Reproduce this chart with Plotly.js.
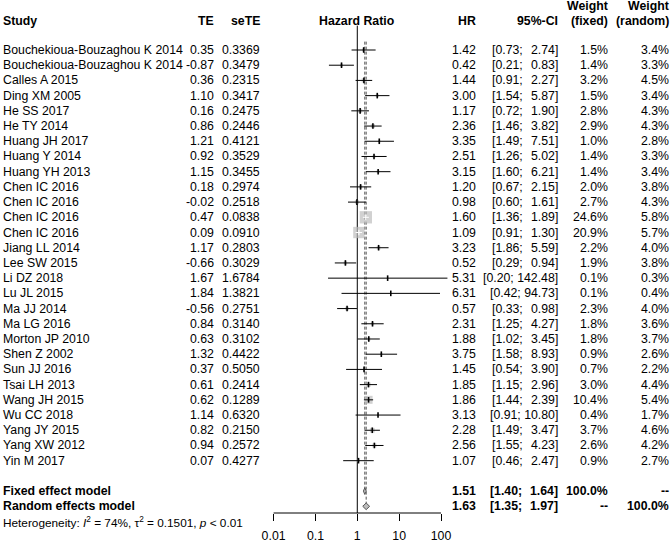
<!DOCTYPE html>
<html><head><meta charset="utf-8">
<script src="https://cdn.plot.ly/plotly-3.0.1.min.js"></script>
<style>html,body{margin:0;padding:0;background:#fff}</style>
</head><body><div id="chart" style="width:671px;height:542px"></div>
<script>
// ---------------- data ----------------
const studies = ["Bouchekioua-Bouzaghou K 2014","Bouchekioua-Bouzaghou K 2014","Calles A 2015","Ding XM 2005","He SS 2017","He TY 2014","Huang JH 2017","Huang Y 2014","Huang YH 2013","Chen IC 2016","Chen IC 2016","Chen IC 2016","Chen IC 2016","Jiang LL 2014","Lee SW 2015","Li DZ 2018","Lu JL 2015","Ma JJ 2014","Ma LG 2016","Morton JP 2010","Shen Z 2002","Sun JJ 2016","Tsai LH 2013","Wang JH 2015","Wu CC 2018","Yang JY 2015","Yang XW 2012","Yin M 2017"];
const TE = [0.35,-0.87,0.36,1.10,0.16,0.86,1.21,0.92,1.15,0.18,-0.02,0.47,0.09,1.17,-0.66,1.67,1.84,-0.56,0.84,0.63,1.32,0.37,0.61,0.62,1.14,0.82,0.94,0.07];
const seTE = [0.3369,0.3479,0.2315,0.3417,0.2475,0.2446,0.4121,0.3529,0.3455,0.2974,0.2518,0.0838,0.0910,0.2803,0.3029,1.6784,1.3821,0.2751,0.3140,0.3102,0.4422,0.5050,0.2414,0.1289,0.6320,0.2150,0.2572,0.4277];
const HR = [1.42,0.42,1.44,3.00,1.17,2.36,3.35,2.51,3.15,1.20,0.98,1.60,1.09,3.23,0.52,5.31,6.31,0.57,2.31,1.88,3.75,1.45,1.85,1.86,3.13,2.28,2.56,1.07];
const lower = [0.73,0.21,0.91,1.54,0.72,1.46,1.49,1.26,1.60,0.67,0.60,1.36,0.91,1.86,0.29,0.20,0.42,0.33,1.25,1.02,1.58,0.54,1.15,1.44,0.91,1.49,1.55,0.46];
const upper = [2.74,0.83,2.27,5.87,1.90,3.82,7.51,5.02,6.21,2.15,1.61,1.89,1.30,5.59,0.94,142.48,94.73,0.98,4.27,3.45,8.93,3.90,2.96,2.39,10.80,3.47,4.23,2.47];
const wFixed = [1.5,1.4,3.2,1.5,2.8,2.9,1.0,1.4,1.4,2.0,2.7,24.6,20.9,2.2,1.9,0.1,0.1,2.3,1.8,1.8,0.9,0.7,3.0,10.4,0.4,3.7,2.6,0.9];
const wRandom = [3.4,3.3,4.5,3.4,4.3,4.3,2.8,3.3,3.4,3.8,4.3,5.8,5.7,4.0,3.8,0.3,0.4,4.0,3.6,3.7,2.6,2.2,4.4,5.4,1.7,4.6,4.2,2.7];

const pooledLabels = ["Fixed effect model","Random effects model"];
const pooledHR = [1.51,1.63];
const pooledLower = [1.40,1.35];
const pooledUpper = [1.64,1.97];
const pooledWFixed = ["100.0%","--"];
const pooledWRandom = ["--","100.0%"];
const heterogeneity = "Heterogeneity: <i>I</i><sup>2</sup> = 74%, \u03c4<sup>2</sup> = 0.1501, <i>p</i> &lt; 0.01";

const tickVals = [0.01,0.1,1,10,100];
const tickText = ["0.01","0.1","1","10","100"];

// ---------------- layout constants ----------------
const W = 671, H = 542;
const FONT = "Liberation Sans, Arial, Helvetica, sans-serif";
const FS = 12.3;
const xDomPx = [262, 470];
const xRange = [-2.277, 2.693];
const yRange = [31.44, -2.287];
const pxPerDec = (xDomPx[1]-xDomPx[0])/(xRange[1]-xRange[0]);
const rows = studies.map((s,i)=>i+1);
const pooledRows = [30, 31];
const maxW = Math.max(...wFixed);
const sqSize = wFixed.map(w => 12.3*Math.sqrt(w/maxW));
const inside = rows.map((r,i) => pxPerDec*(Math.log10(upper[i])-Math.log10(lower[i])) < sqSize[i]);

// ---------------- traces ----------------
function segs(idx){
  const x=[],y=[];
  idx.forEach(i=>{x.push(lower[i],upper[i],null);y.push(rows[i],rows[i],null);});
  return {x,y};
}
const allIdx = rows.map((r,i)=>i);
const outIdx = allIdx.filter(i=>!inside[i]);
const inIdx = allIdx.filter(i=>inside[i]);
const sOut = segs(outIdx), sIn = segs(inIdx);

const traces = [
  {type:'scatter',mode:'markers',x:HR,y:rows,hoverinfo:'skip',
   marker:{symbol:'square',size:sqSize,color:'#bdbdbd',line:{width:0}}},
  {type:'scatter',mode:'lines',x:sOut.x,y:sOut.y,hoverinfo:'skip',connectgaps:false,
   line:{color:'#000',width:1}},
  {type:'scatter',mode:'markers',x:outIdx.map(i=>HR[i]),y:outIdx.map(i=>rows[i]),hoverinfo:'skip',
   marker:{symbol:'line-ns',size:4,line:{color:'#000',width:1.6}}},
  {type:'scatter',mode:'lines',x:sIn.x,y:sIn.y,hoverinfo:'skip',connectgaps:false,
   line:{color:'#fff',width:1}},
  {type:'scatter',mode:'markers',x:inIdx.map(i=>HR[i]),y:inIdx.map(i=>rows[i]),hoverinfo:'skip',
   marker:{symbol:'line-ns',size:4,line:{color:'#fff',width:1.2}}}
];
pooledHR.forEach((h,k)=>{
  const r = pooledRows[k], d = 0.22;
  traces.push({type:'scatter',mode:'lines',fill:'toself',fillcolor:'#bdbdbd',hoverinfo:'skip',
    x:[pooledLower[k],h,pooledUpper[k],h,pooledLower[k]],
    y:[r,r-d,r,r+d,r],line:{color:'#555',width:1}});
});

// ---------------- shapes ----------------
const shapes = [
  {type:'line',xref:'x',yref:'y',x0:1,x1:1,y0:-0.6,y1:yRange[0],layer:'below',line:{color:'#000',width:1}},
  {type:'line',xref:'x',yref:'y',x0:pooledHR[0],x1:pooledHR[0],y0:0.45,y1:pooledRows[0],layer:'below',line:{color:'#555',width:1,dash:'3px,2px'}},
  {type:'line',xref:'x',yref:'y',x0:pooledHR[1],x1:pooledHR[1],y0:0.45,y1:pooledRows[1],layer:'below',line:{color:'#555',width:1,dash:'3px,2px'}},
  {type:'line',xref:'x',yref:'paper',x0:tickVals[0],x1:tickVals[tickVals.length-1],y0:0,y1:0,line:{color:'#000',width:1}}
];

// ---------------- annotations ----------------
const ann = [];
function A(text,xpx,row,anchor,bold,size){
  ann.push({text: bold?('<b>'+text+'</b>'):text, xref:'paper', yref:'y', x:xpx/W, y:row,
    xanchor:anchor, yanchor:'middle', showarrow:false, borderpad:0,
    font:{family:FONT,size:size||FS,color:'#000'}});
}
function CI(lo,up,r,bold,leftPx){
  if(up < 10){
    A('['+lo.toFixed(2)+';',leftPx,r,'left',bold);
    A(up.toFixed(2)+']',559,r,'right',bold);
  } else {
    A('['+lo.toFixed(2)+'; '+up.toFixed(2)+']',559,r,'right',bold);
  }
}
// headers
const hRow = -0.9;
A('Study',2,hRow,'left',true);
A('TE',215,hRow,'right',true);
A('seTE',261,hRow,'right',true);
A('Hazard Ratio',357,hRow,'center',true);
A('HR',477,hRow,'right',true);
A('95%-CI',559,hRow,'right',true);
A('Weight',609,-1.88,'right',true);
A('(fixed)',609,hRow,'right',true);
A('Weight',670,-1.88,'right',true);
A('(random)',670,hRow,'right',true);
// study rows
studies.forEach((s,i)=>{
  const r = rows[i];
  A(s,2,r,'left',false);
  A(TE[i].toFixed(2),215,r,'right',false);
  A(seTE[i].toFixed(4),261,r,'right',false);
  A(HR[i].toFixed(2),477,r,'right',false);
  CI(lower[i],upper[i],r,false,491);
  A(wFixed[i].toFixed(1)+'%',609,r,'right',false);
  A(wRandom[i].toFixed(1)+'%',670,r,'right',false);
});
// pooled rows
pooledLabels.forEach((s,k)=>{
  const r = pooledRows[k];
  A(s,2,r,'left',true);
  A(pooledHR[k].toFixed(2),477,r,'right',true);
  CI(pooledLower[k],pooledUpper[k],r,true,489);
  A(pooledWFixed[k],609,r,'right',true);
  A(pooledWRandom[k],670,r,'right',true);
});
ann.push({text:heterogeneity,xref:'paper',yref:'paper',x:2/W,y:(513-522.7)/513,
  xanchor:'left',yanchor:'middle',showarrow:false,borderpad:0,
  font:{family:FONT,size:11.8,color:'#000'}});

const layout = {
  width:W,height:H,margin:{l:0,r:0,t:0,b:29,pad:0},
  paper_bgcolor:'#fff',plot_bgcolor:'rgba(0,0,0,0)',showlegend:false,
  font:{family:FONT,size:FS,color:'#000'},
  xaxis:{type:'log',range:xRange,domain:[xDomPx[0]/W,xDomPx[1]/W],
    tickmode:'array',tickvals:tickVals,ticktext:tickText,ticks:'outside',ticklen:7,
    tickwidth:1,tickcolor:'#000',showline:false,showgrid:false,zeroline:false,
    ticklabelstandoff:4,
    tickfont:{family:FONT,size:FS,color:'#000'},fixedrange:true},
  yaxis:{range:yRange,visible:false,showgrid:false,zeroline:false,fixedrange:true},
  shapes:shapes,annotations:ann
};
Plotly.newPlot('chart',traces,layout,{displayModeBar:false,staticPlot:true});
</script></body></html>
